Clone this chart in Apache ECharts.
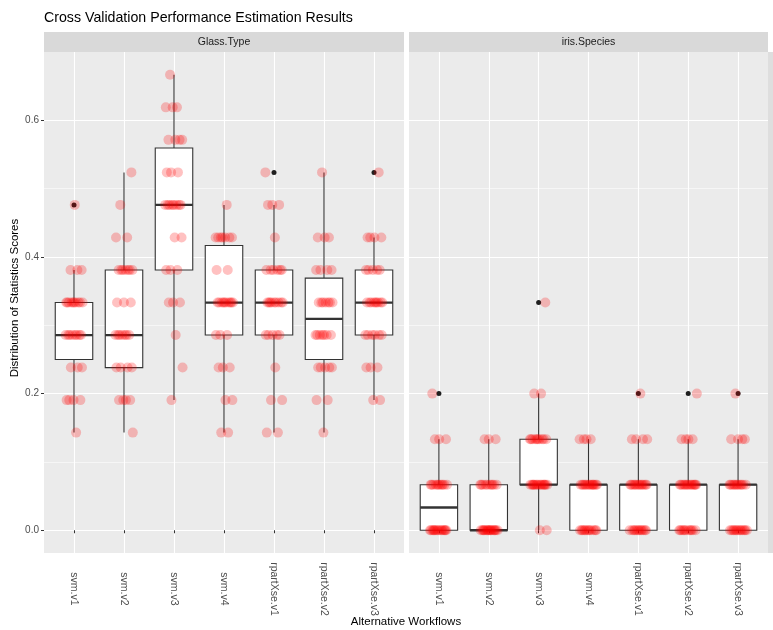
<!DOCTYPE html>
<html>
<head>
<meta charset="utf-8">
<script src="https://cdn.jsdelivr.net/npm/echarts@6/dist/echarts.min.js"></script>
<style>
  html, body { margin: 0; padding: 0; background: #ffffff; }
  #chart { width: 773px; height: 630px; }
</style>
</head>
<body>
<div id="chart"></div>
<script>
// Workflows compared in each task panel
const workflows = ['svm.v1', 'svm.v2', 'svm.v3', 'svm.v4', 'rpartXse.v1', 'rpartXse.v2', 'rpartXse.v3'];
const tasks = ['Glass.Type', 'iris.Species'];
const yTicks = [0, 0.2, 0.4, 0.6];
const yMinorTicks = [0.1, 0.3, 0.5];

// Glass.Type: possible fold scores (k/21) and how many of the 30 folds hit each one
const glassLevels = [0.1429, 0.1905, 0.2381, 0.2857, 0.3333, 0.3810, 0.4286, 0.4762, 0.5238, 0.5714, 0.6190, 0.6667];
const glassCounts = [
  [1, 4, 3, 8, 10, 3, 0, 1, 0, 0, 0, 0],
  [1, 4, 4, 7, 3, 7, 2, 1, 1, 0, 0, 0],
  [0, 1, 1, 1, 3, 3, 2, 8, 3, 4, 3, 1],
  [2, 2, 3, 3, 10, 2, 7, 1, 0, 0, 0, 0],
  [2, 2, 1, 5, 9, 6, 1, 3, 1, 0, 0, 0],
  [1, 2, 5, 7, 7, 4, 3, 0, 1, 0, 0, 0],
  [0, 2, 3, 6, 9, 5, 4, 0, 1, 0, 0, 0]
];
// Box statistics: [lower whisker, Q1, median, Q3, upper whisker]
const glassBoxes = [
  [0.1429, 0.2500, 0.2857, 0.3333, 0.3810],
  [0.1429, 0.2381, 0.2857, 0.3810, 0.5238],
  [0.1905, 0.3810, 0.4762, 0.5595, 0.6667],
  [0.1429, 0.2857, 0.3333, 0.4167, 0.4762],
  [0.1429, 0.2857, 0.3333, 0.3810, 0.4762],
  [0.1429, 0.2500, 0.3095, 0.3690, 0.5238],
  [0.1905, 0.2857, 0.3333, 0.3810, 0.4286]
];
const glassOutliers = [[0.4762], [], [], [], [0.5238], [], [0.5238]];

// iris.Species: possible fold scores (k/15) and their counts
const irisLevels = [0, 0.0667, 0.1333, 0.2, 0.2667, 0.3333];
const irisCounts = [
  [15, 11, 3, 1, 0, 0],
  [17, 10, 3, 0, 0, 0],
  [2, 15, 10, 2, 0, 1],
  [12, 14, 4, 0, 0, 0],
  [12, 13, 4, 1, 0, 0],
  [11, 14, 4, 1, 0, 0],
  [13, 12, 4, 1, 0, 0]
];
const irisBoxes = [
  [0, 0, 0.0333, 0.0667, 0.1333],
  [0, 0, 0, 0.0667, 0.1333],
  [0, 0.0667, 0.0667, 0.1333, 0.2],
  [0, 0, 0.0667, 0.0667, 0.1333],
  [0, 0, 0.0667, 0.0667, 0.1333],
  [0, 0, 0.0667, 0.0667, 0.1333],
  [0, 0, 0.0667, 0.0667, 0.1333]
];
const irisOutliers = [[0.2], [], [0.3333], [], [0.2], [0.2], [0.2]];

const FONT = '"Liberation Sans", Arial, Helvetica, sans-serif';
const Y_MIN = -0.0333, Y_MAX = 0.7;
const X_MIN = 0.4, X_MAX = 7.6;
const HALF_BOX = 0.375;
const JITTER = 0.36;

// Expand level counts into the list of fold scores
function expandScores(levels, counts) {
  const out = [];
  counts.forEach((n, j) => { for (let k = 0; k < n; k++) out.push(levels[j]); });
  return out;
}

// Horizontal spread for overlapping points (deterministic, no vertical shift)
function jitter(group, k) {
  const u = ((k + 1) * 0.6180339887 + group * 0.37) % 1;
  return (u - 0.5) * JITTER;
}

function renderBox(params, api) {
  const x = api.value(0);
  const pMin = api.coord([x, api.value(1)]);
  const pQ1 = api.coord([x, api.value(2)]);
  const pMed = api.coord([x, api.value(3)]);
  const pQ3 = api.coord([x, api.value(4)]);
  const pMax = api.coord([x, api.value(5)]);
  const left = api.coord([x - HALF_BOX, 0])[0];
  const right = api.coord([x + HALF_BOX, 0])[0];
  const stroke = '#333333';
  return {
    type: 'group',
    children: [
      { type: 'line', shape: { x1: pQ3[0], y1: pQ3[1], x2: pMax[0], y2: pMax[1] }, style: { stroke, lineWidth: 1.1 } },
      { type: 'line', shape: { x1: pQ1[0], y1: pQ1[1], x2: pMin[0], y2: pMin[1] }, style: { stroke, lineWidth: 1.1 } },
      { type: 'rect', shape: { x: left, y: pQ3[1], width: right - left, height: pQ1[1] - pQ3[1] },
        style: { fill: '#ffffff', stroke, lineWidth: 1.1 } },
      { type: 'line', shape: { x1: left, y1: pMed[1], x2: right, y2: pMed[1] }, style: { stroke, lineWidth: 2.3 } }
    ]
  };
}

const taskData = [
  { levels: glassLevels, counts: glassCounts, boxes: glassBoxes, outliers: glassOutliers },
  { levels: irisLevels, counts: irisCounts, boxes: irisBoxes, outliers: irisOutliers }
];

const panels = [
  { left: 44, width: 360 },
  { left: 409, width: 359 }
];
const PANEL_TOP = 52, PANEL_H = 501;

const grids = panels.map(p => ({
  left: p.left, top: PANEL_TOP, width: p.width, height: PANEL_H,
  show: true, backgroundColor: '#EBEBEB', borderWidth: 0, containLabel: false
}));

const xAxes = panels.map((p, gi) => ({
  type: 'value', gridIndex: gi, min: X_MIN, max: X_MAX,
  axisLine: { show: false },
  axisTick: { show: true, length: 3, customValues: [1, 2, 3, 4, 5, 6, 7], lineStyle: { color: '#333333', width: 1 } },
  axisLabel: {
    customValues: [1, 2, 3, 4, 5, 6, 7],
    formatter: v => workflows[Math.round(v) - 1] || '',
    rotate: -90, align: 'center', verticalAlign: 'middle', margin: 36,
    color: '#4D4D4D', fontSize: 10.5, fontFamily: FONT
  },
  splitLine: { show: true, lineStyle: { color: '#ffffff', width: 1.1 } }
}));

const yAxes = [];
panels.forEach((p, gi) => {
  yAxes.push({
    type: 'value', gridIndex: gi, min: Y_MIN, max: Y_MAX, position: 'left',
    axisLine: { show: false },
    axisTick: { show: gi === 0, length: 3, customValues: yTicks, lineStyle: { color: '#333333', width: 1 } },
    axisLabel: {
      show: gi === 0, customValues: yTicks, formatter: v => v.toFixed(1),
      color: '#4D4D4D', fontSize: 10, fontFamily: FONT, margin: 5
    },
    splitLine: { show: true, lineStyle: { color: '#ffffff', width: 1.1 } }
  });
});
panels.forEach((p, gi) => {
  yAxes.push({
    type: 'value', gridIndex: gi, min: Y_MIN, max: Y_MAX, position: 'left',
    axisLine: { show: false },
    axisTick: { show: false, customValues: yMinorTicks },
    axisLabel: { show: false, customValues: yMinorTicks },
    splitLine: { show: true, lineStyle: { color: '#ffffff', width: 0.55 } }
  });
});

const series = [];
taskData.forEach((t, gi) => {
  series.push({
    type: 'custom', xAxisIndex: gi, yAxisIndex: gi, z: 2, silent: true,
    renderItem: renderBox,
    encode: { x: 0, y: [1, 2, 3, 4, 5] },
    data: t.boxes.map((b, i) => [i + 1].concat(b))
  });
  const outPts = [];
  t.outliers.forEach((arr, i) => arr.forEach(v => outPts.push([i + 1, v])));
  series.push({
    type: 'scatter', xAxisIndex: gi, yAxisIndex: gi, z: 3, silent: true,
    symbolSize: 5, itemStyle: { color: '#1F1F1F', opacity: 1 },
    data: outPts
  });
  const pts = [];
  t.counts.forEach((c, i) => {
    expandScores(t.levels, c).forEach((v, k) => pts.push([i + 1 + jitter(i + gi * 7, k), v]));
  });
  series.push({
    type: 'scatter', xAxisIndex: gi, yAxisIndex: gi, z: 4, silent: true,
    symbolSize: 10, itemStyle: { color: 'rgba(255,0,0,0.3)', borderWidth: 0 },
    data: pts
  });
});

const graphic = [
  { type: 'text', x: 44, y: 18, style: { text: 'Cross Validation Performance Estimation Results', fill: '#000000', font: '14.2px ' + FONT, verticalAlign: 'middle' } },
  { type: 'text', x: 406, y: 622, style: { text: 'Alternative Workflows', fill: '#000000', font: '11.5px ' + FONT, align: 'center', verticalAlign: 'middle' } },
  { type: 'text', x: 15, y: 298, rotation: Math.PI / 2, style: { text: 'Distribution of Statistics Scores', fill: '#000000', font: '11.5px ' + FONT, align: 'center', verticalAlign: 'middle' } },
  { type: 'rect', shape: { x: 768, y: PANEL_TOP, width: 5, height: PANEL_H }, style: { fill: '#DEDEDE' } }
];
panels.forEach((p, gi) => {
  graphic.push({ type: 'rect', shape: { x: p.left, y: 32, width: p.width, height: 20 }, style: { fill: '#D9D9D9' } });
  graphic.push({ type: 'text', x: p.left + p.width / 2, y: 42.5, style: { text: tasks[gi], fill: '#1A1A1A', font: '10.5px ' + FONT, align: 'center', verticalAlign: 'middle' } });
});

const chart = echarts.init(document.getElementById('chart'), null, { renderer: 'canvas' });
chart.setOption({
  animation: false,
  backgroundColor: '#ffffff',
  grid: grids,
  xAxis: xAxes,
  yAxis: yAxes,
  series: series,
  graphic: graphic
});
</script>
</body>
</html>
